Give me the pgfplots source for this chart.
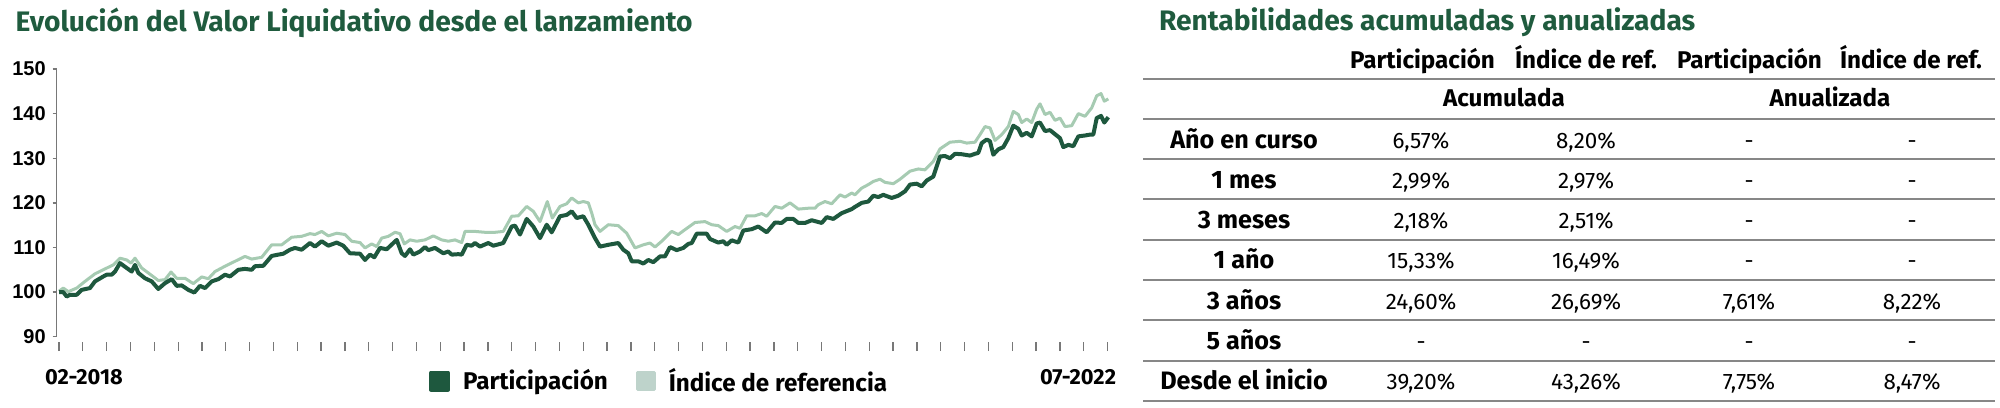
\documentclass[border=0pt]{standalone}
\usepackage{pgfplots}
\pgfplotsset{compat=1.18}
\usepackage{fontspec}
\newfontfamily\fira{Fira Sans}
\newfontfamily\arialb{Liberation Sans}
\definecolor{dkgreen}{RGB}{30,88,62}
\definecolor{ltline}{RGB}{166,203,178}
\definecolor{ltsq}{RGB}{190,211,203}
\definecolor{titlegreen}{RGB}{31,91,62}
\definecolor{rulegray}{RGB}{135,135,135}
\definecolor{axgray}{RGB}{120,120,120}
\pgfplotsset{chartbox/.style={
  at={(28.35pt,-168.35pt)}, anchor=south west,
  scale only axis, width=526.65pt, height=133.85pt,
  xmin=56.7, xmax=1110, ymin=90, ymax=150}}
\newcommand\tfont{\fira\bfseries\fontsize{14.1}{15}\selectfont}
\newcommand\hfont{\fira\bfseries\fontsize{12.1}{13}\selectfont}
\newcommand\rfont{\fira\bfseries\fontsize{12.6}{13}\selectfont}
\newcommand\dfont{\fira\bfseries\fontsize{10.9}{12}\selectfont}
\newcommand\nfont{\fira\fontsize{11.2}{12}\selectfont}
\newcommand\trow[6]{%
  \node[anchor=base, font=\rfont] at (1244,#1) {#2};
  \node[anchor=base, font=\nfont] at (1421,#1) {#3};
  \node[anchor=base, font=\nfont] at (1586,#1) {#4};
  \node[anchor=base, font=\nfont] at (1749,#1) {#5};
  \node[anchor=base, font=\nfont] at (1912,#1) {#6};}
\begin{document}
\begin{tikzpicture}
\useasboundingbox (0,0) rectangle (1000pt,-203.5pt);
% x ticks only
\begin{axis}[chartbox,
  axis x line*=bottom, hide y axis,
  x axis line style={draw=none},
  tick align=outside, major tick length=4.5pt,
  xtick={59,82.83,...,1108}, xticklabels={},
  xtick style={draw=axgray, line width=0.65pt, yshift=-2.7pt}]
\end{axis}
\begin{axis}[chartbox,
  axis y line*=left, hide x axis,
  y axis line style={draw=axgray, line width=0.65pt},
  tick align=outside, major tick length=2pt,
  ytick={90,100,...,150},
  ytick style={draw=axgray, line width=0.65pt},
  /pgf/number format/assume math mode=true,
  yticklabel style={font=\arialb\bfseries\fontsize{10}{10}\selectfont, text=black},
  legend columns=2, reverse legend,
  legend style={at={(0.3535,-0.1655)}, anchor=west, draw=none, fill=none,
    inner sep=0pt, outer sep=0pt,
    font=\hfont,
    /tikz/every odd column/.append style={column sep=4.5pt},
    /tikz/every even column/.append style={column sep=12pt}},
  clip=false,
]
\addplot[draw=ltline, line width=1.5pt, line join=round,
  legend image code/.code={\fill[ltsq] (0pt,-4.25pt) rectangle (8.5pt,4.25pt);}]
coordinates {
(59,100.2) (63.3,100.9) (68.3,100.1) (76.7,100.9) (85,102.4) (95,104.1) (105,105.2) (113.3,106.1) (120,107.6) (126.7,107.2) (131,106.5) (135,107.6) (141.7,105.4) (148.3,104.3) (158.3,102.6) (165,102.8) (171,104.5) (176.7,103.1) (185,103.1) (193.3,101.9) (201.7,103.4) (208.3,103.0) (215,104.6) (225,105.8) (235,106.9) (245,108.0) (251.7,107.4) (261.7,107.8) (271.7,110.6) (281.7,110.6) (291.7,112.3) (301.7,112.5) (310,113.1) (315,112.9) (321.7,113.6) (328.3,112.6) (336.7,113.2) (345,112.9) (351.7,111.4) (360,111.1) (365,109.9) (371.7,110.8) (376.7,110.2) (381.7,112.1) (388.3,112.5) (395,113.4) (400,113.1) (404.3,110.8) (410,111.7) (416.7,111.4) (425,111.7) (433.3,112.6) (441.7,111.7) (448.3,111.4) (455,111.7) (461.7,111.1) (465,113.6) (475,113.6) (485,113.4) (495,113.4) (503.3,113.6) (511.7,117.0) (518.3,117.1) (526.7,119.2) (533.3,118.1) (540,115.8) (547.3,120.3) (552.3,116.6) (560,119.2) (566.7,119.8) (571.7,121.1) (578.3,120.0) (583.3,120.3) (588.3,120.0) (592,117.5) (595,115.1) (600,113.6) (608.3,115.1) (618.3,114.9) (626.7,113.2) (635,109.9) (643.3,110.6) (650,111.0) (655,110.1) (661.7,111.4) (671.7,113.6) (678.3,112.9) (685,114.0) (695,115.6) (705,115.8) (711.7,115.1) (718.3,114.9) (726.7,113.6) (735,114.7) (740,114.3) (746.7,117.1) (755,117.1) (761.7,117.6) (766.7,117.0) (775,119.2) (781.7,118.8) (790,120.0) (798.3,118.6) (808.3,118.8) (815,118.8) (818.3,119.6) (825,120.3) (831.7,119.8) (840,121.8) (845,121.3) (851.7,122.2) (855,121.8) (861.7,123.3) (868.3,124.1) (873.3,124.8) (880,125.3) (885,124.6) (893.3,124.3) (900,125.3) (910,127.1) (918.3,127.6) (925,127.4) (933.3,129.3) (940,132.1) (950,133.6) (960,133.8) (966.7,133.4) (975,133.6) (980,135.3) (985,137.1) (990,136.8) (995,134.0) (1001.7,135.3) (1008.3,137.1) (1013.3,140.5) (1018.3,139.8) (1021.7,138.0) (1026.7,138.8) (1031.7,138.0) (1036.7,141.0) (1040,142.2) (1045,139.8) (1050,140.3) (1055,138.5) (1060,139.0) (1065,137.1) (1071.7,137.3) (1078.3,140.0) (1085,139.4) (1091.7,141.3) (1096.7,144.0) (1101,144.5) (1104.3,142.8) (1108.3,143.3)
};
\addplot[draw=dkgreen, line width=2pt, line join=round,
  legend image code/.code={\fill[dkgreen] (0pt,-4.25pt) rectangle (8.5pt,4.25pt);}]
coordinates {
(59,100.0) (63.3,100.0) (66.7,99.0) (70,99.4) (76.7,99.4) (81.7,100.5) (90,100.9) (95,102.4) (103.3,103.5) (106.7,103.9) (111.7,103.9) (115,104.6) (120,106.5) (126.7,105.4) (131.7,104.6) (135,106.1) (138.3,104.3) (145,103.1) (151.7,102.4) (158.3,100.7) (165,102.0) (171.7,102.9) (176.7,101.4) (181.7,101.5) (188.3,100.5) (194.3,99.9) (200,101.4) (205,100.9) (211.7,102.4) (218.3,102.9) (225,103.9) (230,103.5) (238.3,105.0) (245,105.2) (251.7,105.0) (255,105.8) (263.3,105.9) (271.7,108.1) (278.3,108.4) (283.3,108.6) (290,109.5) (295,109.9) (301.7,109.5) (310,111.0) (315,110.2) (321.7,111.4) (328.3,110.4) (336.7,111.1) (343.3,110.4) (350,108.7) (360,108.6) (365,107.2) (370,108.4) (374.3,107.8) (380,109.9) (386.7,109.6) (396.7,111.7) (401.7,108.7) (405,108.1) (410,109.6) (413.3,108.4) (420,109.1) (425,110.1) (428.3,109.4) (435,109.9) (443.3,108.7) (448.3,109.1) (451.7,108.4) (458.3,108.5) (461.7,108.4) (466.7,110.6) (471.7,110.4) (475,111.0) (480,110.2) (488.3,111.0) (493.3,110.4) (503.3,111.0) (511.7,114.7) (515,114.9) (520,112.9) (526.7,116.4) (533.3,114.7) (540,112.1) (546.7,115.1) (551.7,113.4) (560,117.0) (566.7,117.3) (571.7,118.1) (576.7,116.6) (583.3,117.0) (588.3,115.1) (595,112.1) (600,110.2) (608.3,110.6) (618.3,111.0) (623.3,109.5) (628.3,108.7) (631.7,106.9) (638.3,106.9) (643.3,106.4) (648.3,107.2) (653.3,106.7) (660,108.0) (665,108.0) (670,110.1) (676.7,109.4) (683.3,109.9) (688.3,110.8) (691.7,111.0) (696.7,113.1) (706.7,113.1) (710,111.9) (718.3,111.1) (723.3,111.4) (726.7,110.6) (731.7,111.6) (738.3,111.1) (743.3,113.8) (751.7,114.1) (758.3,114.7) (766.7,113.4) (775,115.6) (781.7,115.5) (786.7,116.4) (793.3,116.4) (798.3,115.5) (805,115.5) (811.7,116.1) (821.7,115.5) (826.7,116.8) (833.3,116.4) (841.7,117.7) (851.7,118.6) (855,119.1) (861.7,120.0) (868.3,120.3) (873.3,121.6) (878.3,121.3) (883.3,121.8) (891.7,121.1) (898.3,121.6) (905,122.6) (910,124.1) (916.7,124.3) (921.7,123.7) (926.7,125.0) (933.3,125.9) (940,130.4) (945,130.5) (950,130.0) (955,131.0) (961.7,130.9) (970,130.6) (975,131.0) (978.3,131.2) (981.7,133.4) (986.7,134.2) (990,133.8) (993.3,130.8) (998.3,132.0) (1003.3,132.5) (1008.3,134.5) (1013.3,137.3) (1018.3,136.6) (1021.7,135.1) (1026.7,135.7) (1031.7,134.9) (1036.7,137.8) (1040,138.0) (1045,136.1) (1050,136.3) (1055,135.4) (1060,134.5) (1063.3,132.5) (1068.3,133.0) (1073.3,132.7) (1078.3,134.9) (1085,135.1) (1090,135.3) (1093.3,135.3) (1096.7,139.0) (1101,139.5) (1104.3,138.0) (1108.3,139.2)
};
\legend{Índice de referencia, Participación}
\end{axis}
\begin{scope}[x=0.5pt, y=-0.5pt, every node/.style={inner sep=0pt, outer sep=0pt}]
\node[anchor=base west, font=\tfont, text=titlegreen] at (15.6,31.7) {Evolución del Valor Liquidativo desde el lanzamiento};
\node[anchor=base, font=\dfont] at (84,384) {02-2018};
\node[anchor=base, font=\dfont] at (1078,384) {07-2022};
\node[anchor=base west, font=\tfont, text=titlegreen] at (1159,30) {Rentabilidades acumuladas y anualizadas};
\foreach \yy in {78.5,118.8,159.1,199.4,239.7,280,320.3,360.6,400.9}
  \draw[rulegray, line width=1pt] (1143,\yy) -- (1995,\yy);
\node[anchor=base, font=\hfont] at (1422.5,68.3) {Participación};
\node[anchor=base, font=\hfont] at (1586,68.3) {Índice de ref.};
\node[anchor=base, font=\hfont] at (1749.5,68.3) {Participación};
\node[anchor=base, font=\hfont] at (1911,68.3) {Índice de ref.};
\node[anchor=base, font=\hfont] at (1504,106.5) {Acumulada};
\node[anchor=base, font=\hfont] at (1830,106.5) {Anualizada};
\trow{148}{Año en curso}{6,57\%}{8,20\%}{-}{-}
\trow{188.3}{1 mes}{2,99\%}{2,97\%}{-}{-}
\trow{228.6}{3 meses}{2,18\%}{2,51\%}{-}{-}
\trow{268.9}{1 año}{15,33\%}{16,49\%}{-}{-}
\trow{309.2}{3 años}{24,60\%}{26,69\%}{7,61\%}{8,22\%}
\trow{349.5}{5 años}{-}{-}{-}{-}
\trow{389.8}{Desde el inicio}{39,20\%}{43,26\%}{7,75\%}{8,47\%}
\end{scope}
\end{tikzpicture}
\end{document}
